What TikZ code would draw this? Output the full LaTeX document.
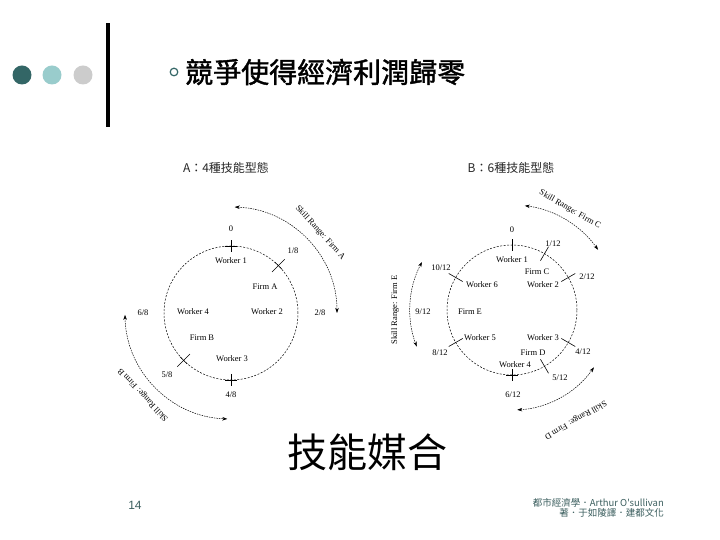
\documentclass[tikz,border=0pt]{standalone}
\usepackage{fontspec}
\setmainfont{Liberation Serif}
\setsansfont{Liberation Sans}
\newfontfamily\cjk{Noto Sans CJK TC}
\newfontfamily\cjkbold[FakeBold=1.5]{Noto Sans CJK TC}
\usetikzlibrary{arrows.meta,calc}
\definecolor{tealdark}{RGB}{51,102,102}
\definecolor{teallight}{RGB}{153,204,204}
\definecolor{greydot}{RGB}{204,204,204}
\definecolor{foot}{RGB}{60,95,95}
\begin{document}
\begin{tikzpicture}[x=1pt,y=1pt,
  lbl/.style={font=\fontsize{8.5}{9}\selectfont, inner sep=0pt},
  ring/.style={dash pattern=on 2pt off 1.5pt, line width=0.5pt},
  tickline/.style={line width=0.6pt},
  rangearc/.style={dash pattern=on 1.5pt off 1pt, line width=0.5pt,
    {Stealth[length=5pt,width=3.5pt]}-{Stealth[length=5pt,width=3.5pt]}},
  sub/.style={font=\cjk\fontsize{12}{13}\selectfont, inner sep=0pt, text=black!85},
]
\useasboundingbox (0,0) rectangle (720,540);
\fill[white] (0,0) rectangle (720,540);

% header
\fill[tealdark] (22,465) circle (9.5);
\fill[teallight] (52,465) circle (9.5);
\fill[greydot] (83,465) circle (9.5);
\fill[black] (106,413) rectangle (110,517);
\draw[tealdark, line width=1.2pt] (174,468) circle (3.8);
\node[anchor=west, inner sep=0pt, font=\cjkbold\fontsize{28}{30}\selectfont] (title) at (185,468) {競爭使得經濟利潤歸零};

% subtitles
\node[sub] (subA) at (226,372) {A：4種技能型態};
\node[sub] (subB) at (511,372) {B：6種技能型態};

% ===== Circle A =====
\coordinate (cA) at (231,227);
\draw[ring] (cA) circle (67);
\foreach \a in {90,270} {
  \draw[tickline] ($(cA)+(\a:61)$) -- ($(cA)+(\a:73)$);
  \draw[tickline] ($(cA)+(\a:67)+(\a+90:6)$) -- ($(cA)+(\a:67)+(\a-90:6)$);
}
\foreach \a in {45,225} {
  \draw[tickline] ($(cA)+(\a:58)$) -- ($(cA)+(\a:76)$);
  \draw[tickline] ($(cA)+(\a:67)+(\a+90:5)$) -- ($(cA)+(\a:67)+(\a-90:5)$);
}
\node[lbl] (a0) at (231,311) {0};
\node[lbl] (aw1) at (231,279) {Worker 1};
\node[lbl] (a18) at (293,289) {1/8};
\node[lbl] (afa) at (265,253) {Firm A};
\node[lbl] (aw2) at (267,228) {Worker 2};
\node[lbl] (aw4) at (193,228) {Worker 4};
\node[lbl] (a28) at (320,227) {2/8};
\node[lbl] (a68) at (143,227) {6/8};
\node[lbl] (afb) at (202,202) {Firm B};
\node[lbl] (aw3) at (232,181) {Worker 3};
\node[lbl] (a58) at (167,165) {5/8};
\node[lbl] (a48) at (231,145) {4/8};
\draw[rangearc] ($(cA)+(88:106)$) arc[start angle=88, end angle=0, radius=106];
\draw[rangearc] ($(cA)+(181:106)$) arc[start angle=181, end angle=268, radius=106];
\node[lbl, rotate=-48] (srA) at ($(cA)+(42:120)$) {Skill Range: Firm A};
\node[lbl, rotate=133] (srB) at ($(cA)+(223:120)$) {Skill Range: Firm B};

% ===== Circle B =====
\coordinate (cB) at (512,230);
\draw[ring] (cB) circle (65);
\draw[tickline] ($(cB)+(90:59)$) -- ($(cB)+(90:71)$);
\draw[tickline] ($(cB)+(270:59)$) -- ($(cB)+(270:71)$);
\draw[tickline] ($(cB)+(0,-65)+(-6,0)$) -- ($(cB)+(0,-65)+(6,0)$);
\foreach \a in {60,30,-30,-60,210,150} {
  \draw[tickline] ($(cB)+(\a:57)$) -- ($(cB)+(\a:73)$);
}
\node[lbl] (b0) at (512,310) {0};
\node[lbl] (b112) at (553,296) {1/12};
\node[lbl] (bw1) at (512,280) {Worker 1};
\node[lbl] (b1012) at (441,272) {10/12};
\node[lbl] (bfc) at (537,268) {Firm C};
\node[lbl] (b212) at (587,263) {2/12};
\node[lbl] (bw6) at (482,255) {Worker 6};
\node[lbl] (bw2) at (543,255) {Worker 2};
\node[lbl] (b912) at (423,228) {9/12};
\node[lbl] (bfe) at (470,228) {Firm E};
\node[lbl] (bw5) at (480,202) {Worker 5};
\node[lbl] (bw3) at (543,202) {Worker 3};
\node[lbl] (b812) at (440,187) {8/12};
\node[lbl] (bfd) at (533,187) {Firm D};
\node[lbl] (b412) at (583,188) {4/12};
\node[lbl] (bw4) at (515,175) {Worker 4};
\node[lbl] (b512) at (560,162) {5/12};
\node[lbl] (b612) at (513,145) {6/12};
\draw[rangearc] ($(cB)+(83:105)$) arc[start angle=83, end angle=35, radius=105];
\draw[rangearc] ($(cB)+(152:102)$) arc[start angle=152, end angle=201, radius=102];
\draw[rangearc] ($(cB)+(273:100)$) arc[start angle=273, end angle=325, radius=100];
\node[lbl, rotate=-30] (srC) at ($(cB)+(60:116)$) {Skill Range: Firm C};
\node[lbl, rotate=90] (srE) at ($(cB)+(180:117)$) {Skill Range: Firm E};
\node[lbl, rotate=210] (srD) at ($(cB)+(300:127)$) {Skill Range: Firm D};

% caption
\node[inner sep=0pt, font=\cjk\fontsize{40}{42}\selectfont] (cap) at (367,88) {技能媒合};

% footer
\node[inner sep=0pt, text=foot, font=\sffamily\fontsize{12}{13}\selectfont] (pg) at (135,35) {14};
\node[anchor=east, inner sep=0pt, text=foot, font=\cjk\fontsize{9.5}{10}\selectfont] (f1) at (664,37) {都市經濟學．Arthur O'sullivan};
\node[anchor=east, inner sep=0pt, text=foot, font=\cjk\fontsize{9.5}{10}\selectfont] (f2) at (664,27) {著．于如陵譯．建都文化};
\end{tikzpicture}
\end{document}
